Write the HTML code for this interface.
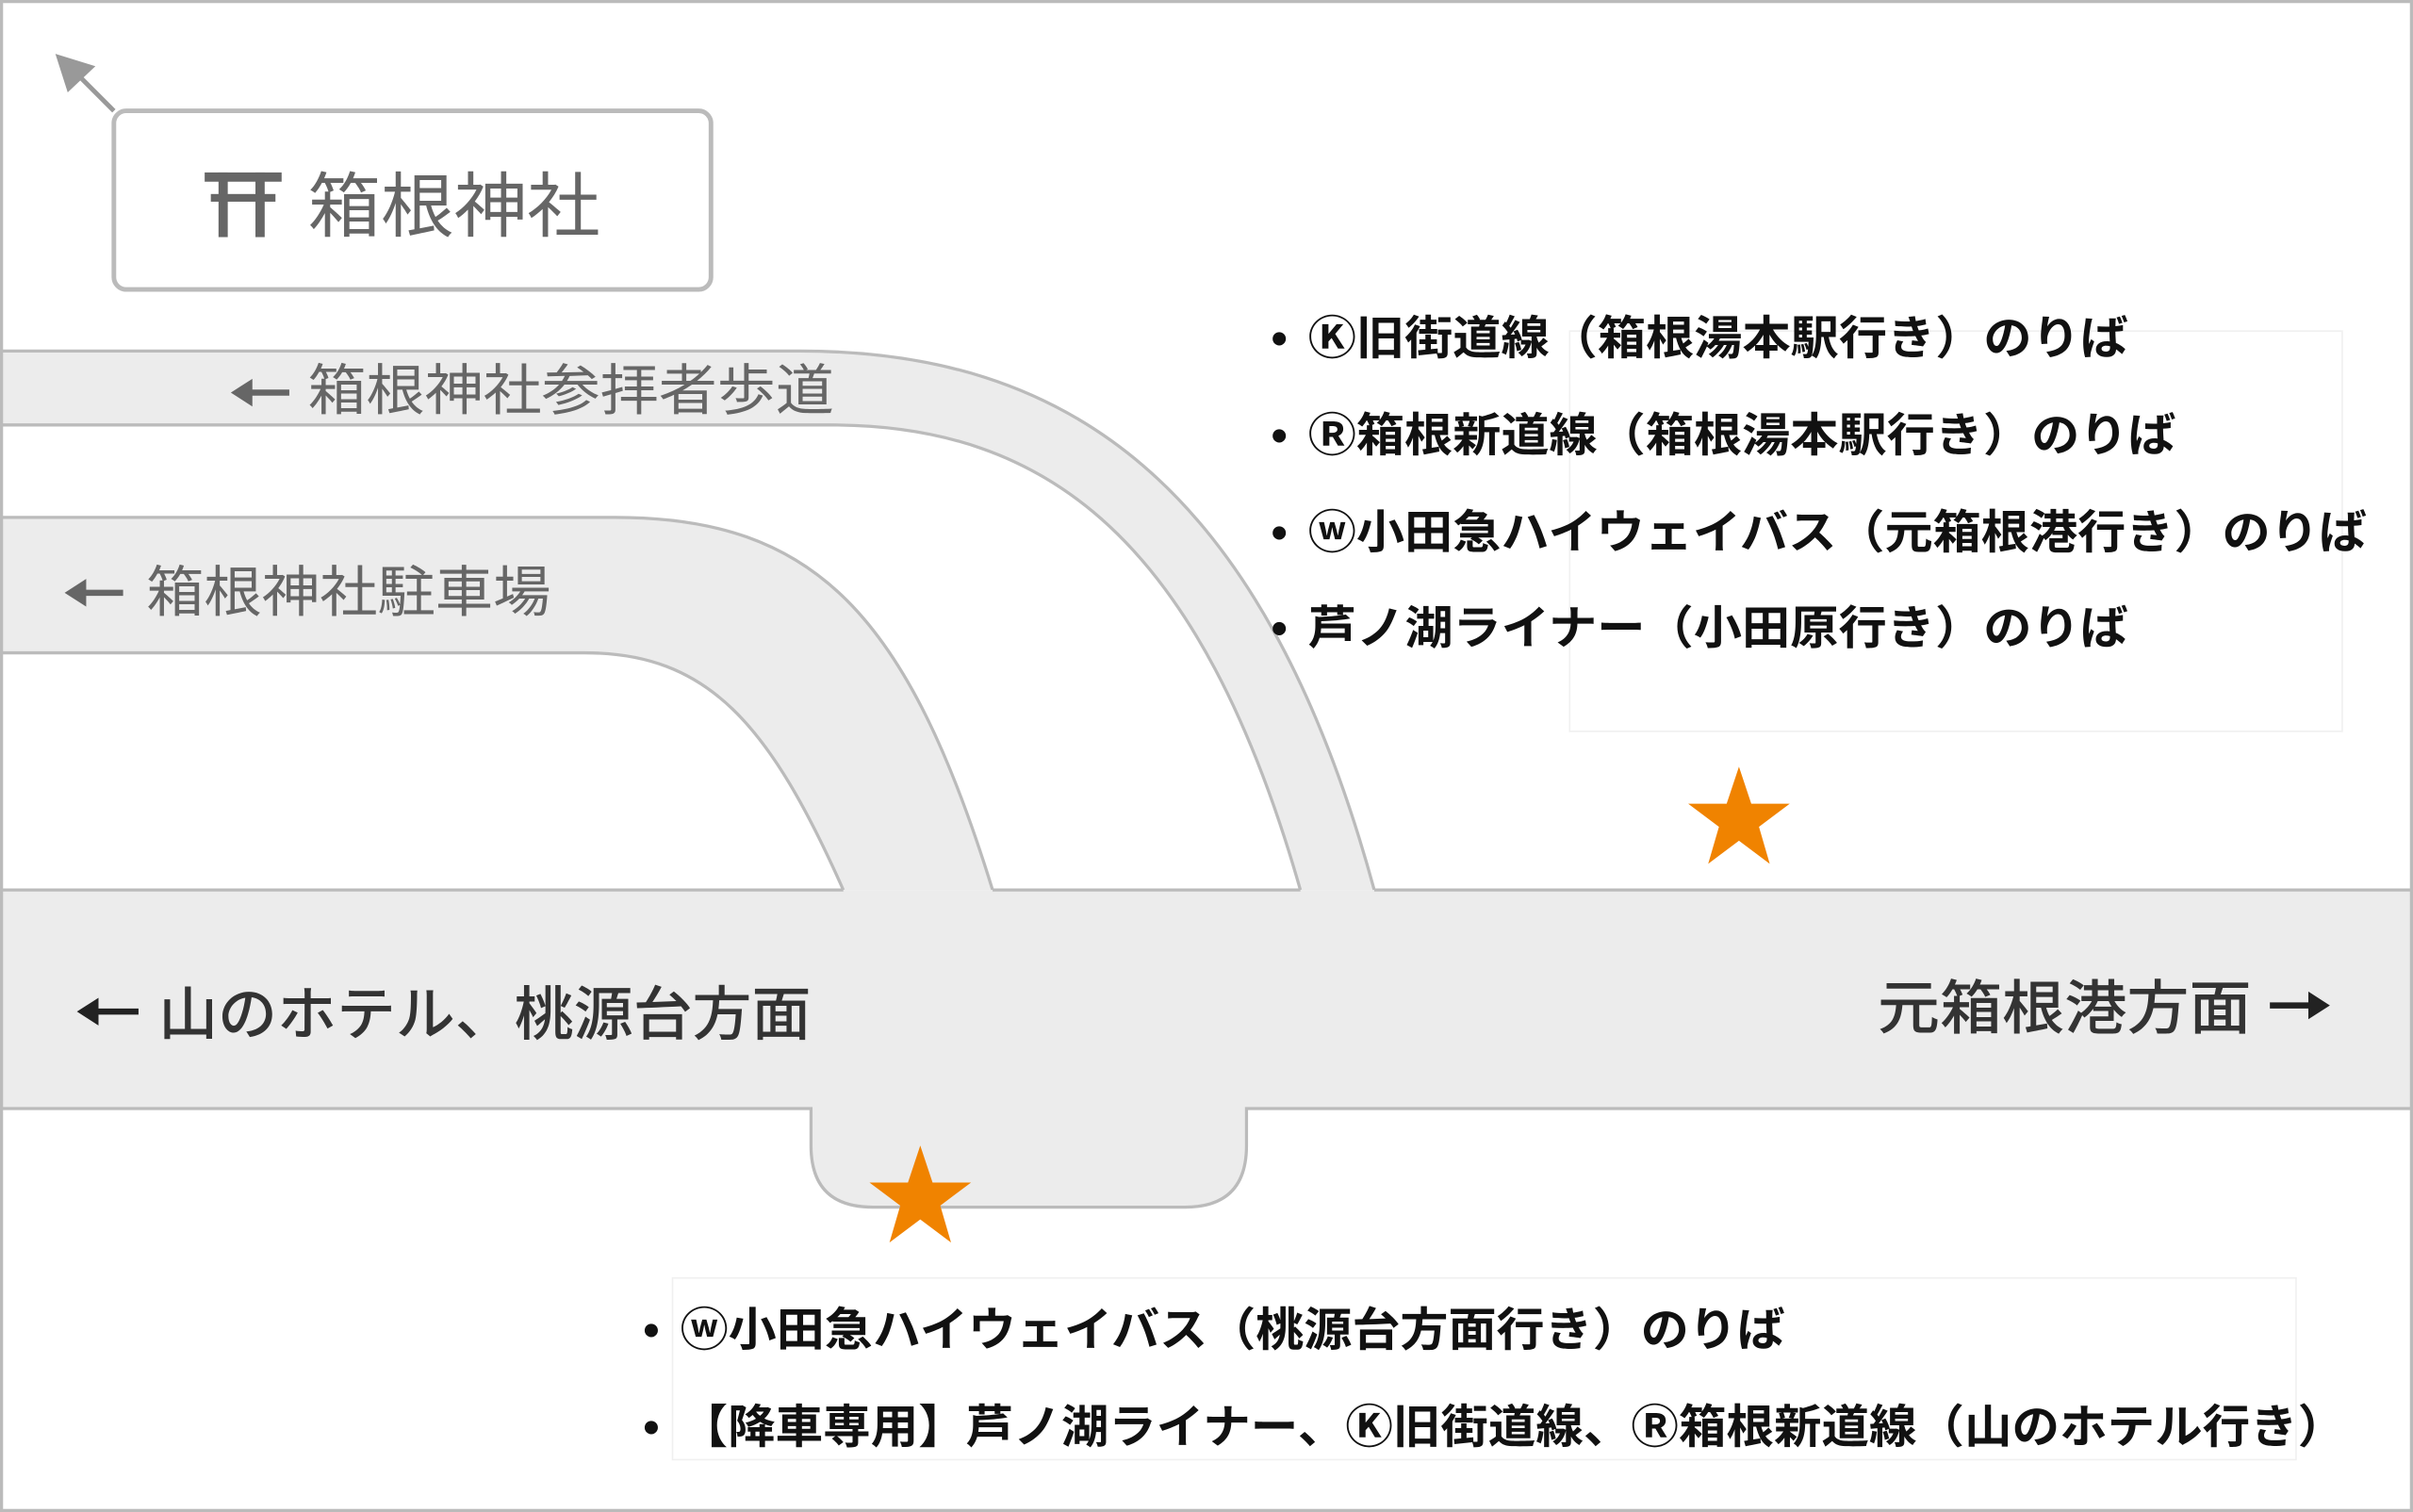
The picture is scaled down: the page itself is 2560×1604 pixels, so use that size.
<!DOCTYPE html>
<html><head><meta charset="utf-8"><style>
html,body{margin:0;padding:0;background:#fff}
svg{display:block}
text{font-family:"Liberation Sans","Noto Sans CJK JP",sans-serif}
</style></head><body>
<svg width="2560" height="1604" viewBox="0 0 1568 982" preserveAspectRatio="none" xmlns="http://www.w3.org/2000/svg">
<rect x="0" y="0" width="1568" height="982" fill="#fff"/>
<path d="M0,228 L520,228 C690,228 820,310 893,578 L845,578 C780,350 680,276 540,276 L0,276 Z" fill="#ececec"/>
<path d="M0,228 L520,228 C690,228 820,310 893,578" fill="none" stroke="#bbb" stroke-width="2"/>
<path d="M0,276 L540,276 C680,276 780,350 845,578" fill="none" stroke="#bbb" stroke-width="2"/>
<path d="M0,336 L400,336 C530,336 590,400 645,578 L548,578 C500,470 460,424 380,424 L0,424 Z" fill="#ececec"/>
<path d="M0,336 L400,336 C530,336 590,400 645,578" fill="none" stroke="#bbb" stroke-width="2"/>
<path d="M0,424 L380,424 C460,424 500,470 548,578" fill="none" stroke="#bbb" stroke-width="2"/>
<path d="M0,578 L1568,578 L1568,720 L810,720 L810,744 Q810,784 770,784 L567,784 Q527,784 527,744 L527,720 L0,720 Z" fill="#ececec"/>
<path d="M0,578 L548,578 M645,578 L845,578 M893,578 L1568,578" stroke="#bbb" stroke-width="2" fill="none"/>
<path d="M0,720 L527,720 L527,744 Q527,784 567,784 L770,784 Q810,784 810,744 L810,720 L1568,720" stroke="#bbb" stroke-width="2" fill="none"/>
<rect x="1" y="1" width="1566" height="980" fill="none" stroke="#bbb" stroke-width="2"/>
<rect x="74" y="72" width="388" height="116" rx="8" fill="#fff" stroke="#bbb" stroke-width="3"/>
<line x1="74" y1="72" x2="48" y2="46" stroke="#999" stroke-width="3"/>
<polygon points="36,35 62,43 44,60" fill="#999"/>
<g fill="#666">
<rect x="133" y="112" width="50" height="6"/>
<rect x="137" y="126" width="42" height="5"/>
<rect x="142" y="112" width="6" height="42"/>
<rect x="166" y="112" width="6" height="42"/>
</g>
<text x="200" y="150" font-size="46" fill="#666" textLength="190" lengthAdjust="spacingAndGlyphs">箱根神社</text>
<!-- arrows -->
<g stroke-width="4" fill="none">
<path d="M188,255 L156,255" stroke="#666"/>
<path d="M80,385 L48,385" stroke="#666"/>
<path d="M90,657 L56,657" stroke="#222"/>
<path d="M1475,653 L1508,653" stroke="#222"/>
</g>
<polygon points="150,255 164,246 164,264" fill="#666"/>
<polygon points="42,385 56,376 56,394" fill="#666"/>
<polygon points="50,657 64,648 64,666" fill="#222"/>
<polygon points="1514,653 1500,644 1500,662" fill="#222"/>
<text x="200" y="266" font-size="36" fill="#666" textLength="342" lengthAdjust="spacingAndGlyphs">箱根神社参拝者歩道</text>
<text x="95" y="397" font-size="36" fill="#666" textLength="263" lengthAdjust="spacingAndGlyphs">箱根神社駐車場</text>
<text x="103" y="672" font-size="38" fill="#333" font-weight="bold" textLength="424" lengthAdjust="spacingAndGlyphs" style="font-weight:500">山のホテル、桃源台方面</text>
<text x="1220" y="668" font-size="38" fill="#333" textLength="243" lengthAdjust="spacingAndGlyphs" style="font-weight:500">元箱根港方面</text>
<polygon fill="#f08300" transform="translate(1130,532)" points="0,-34 8,-10 33,-10 13,5 20,29 0,14 -20,29 -13,5 -33,-10 -8,-10"/>
<polygon fill="#f08300" transform="translate(598,778)" points="0,-34 8,-10 33,-10 13,5 20,29 0,14 -20,29 -13,5 -33,-10 -8,-10"/>
<rect x="1020" y="215" width="502" height="260" fill="none" stroke="#f0f0f0" stroke-width="1"/>
<rect x="437" y="830" width="1055" height="118" fill="none" stroke="#f0f0f0" stroke-width="1"/>
<g font-size="30" font-weight="bold" fill="#111">
<text x="826" y="230">•</text>
<text x="850" y="230" textLength="533" lengthAdjust="spacingAndGlyphs">Ⓚ旧街道線（箱根湯本駅行き）のりば</text>
<text x="826" y="293">•</text>
<text x="850" y="293" textLength="564" lengthAdjust="spacingAndGlyphs">Ⓡ箱根新道線（箱根湯本駅行き）のりば</text>
<text x="826" y="356">•</text>
<text x="850" y="356" textLength="688" lengthAdjust="spacingAndGlyphs">ⓦ小田急ハイウェイバス（元箱根港行き）のりば</text>
<text x="826" y="418">•</text>
<text x="850" y="418" textLength="533" lengthAdjust="spacingAndGlyphs">芦ノ湖ライナー（小田原行き）のりば</text>
<text x="418" y="874">•</text>
<text x="442" y="874" textLength="718" lengthAdjust="spacingAndGlyphs">ⓦ小田急ハイウェイバス（桃源台方面行き）のりば</text>
<text x="418" y="937">•</text>
<text x="442" y="937" textLength="1082" lengthAdjust="spacingAndGlyphs">【降車専用】芦ノ湖ライナー、Ⓚ旧街道線、Ⓡ箱根新道線（山のホテル行き）</text>
</g>
</svg>
</body></html>
